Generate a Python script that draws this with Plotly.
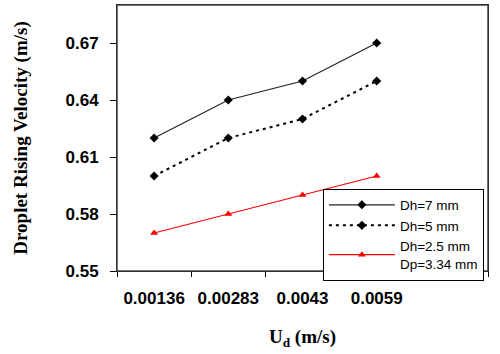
import plotly.graph_objects as go

categories = ["0.00136", "0.00283", "0.0043", "0.0059"]
dh7 = [0.62, 0.64, 0.65, 0.67]
dh5 = [0.60, 0.62, 0.63, 0.65]
dh25 = [0.57, 0.58, 0.59, 0.60]
y_ticks = [0.55, 0.58, 0.61, 0.64, 0.67]

fig = go.Figure()
fig.add_trace(go.Scatter(x=categories, y=dh7, name="Dh=7 mm", mode="lines+markers",
                         line=dict(color="#222222", width=1.2),
                         marker=dict(symbol="diamond", size=7, color="black")))
fig.add_trace(go.Scatter(x=categories, y=dh5, name="Dh=5 mm", mode="lines+markers",
                         line=dict(color="black", width=2, dash="3px,4px"),
                         marker=dict(symbol="diamond", size=7, color="black")))
fig.add_trace(go.Scatter(x=categories, y=dh25, name="Dh=2.5 mm<br>Dp=3.34 mm", mode="lines+markers",
                         line=dict(color="red", width=1.2),
                         marker=dict(symbol="triangle-up", size=7, color="red")))

fig.update_layout(
    width=500, height=354,
    margin=dict(l=117, r=12, t=5, b=83, autoexpand=False),
    plot_bgcolor="white", paper_bgcolor="white",
    showlegend=True,
    legend=dict(x=0.555, y=0.31, xanchor="left", yanchor="top",
                bordercolor="black", borderwidth=1, bgcolor="white",
                font=dict(family="Arial, Liberation Sans", size=13.5, color="black"),
                tracegroupgap=0, itemwidth=66),
    shapes=[dict(type="rect", xref="paper", yref="paper", x0=0, x1=1, y0=0, y1=1,
                 line=dict(color="#444444", width=1.5), layer="above")],
    xaxis=dict(type="category", categoryorder="array", categoryarray=categories + [" "],
               range=[-0.5, 4.5], tickson="boundaries", ticks="outside", ticklen=5,
               tickcolor="black", showline=True, linecolor="black", linewidth=1,
               mirror=True, showgrid=False, automargin=False, ticklabelstandoff=12,
               tickfont=dict(family="Arial, Liberation Sans", size=17, color="black", weight="bold"),
               title=dict(text="U<sub>d</sub> (m/s)", standoff=22,
                          font=dict(family="Times New Roman, Liberation Serif", size=19, color="black", weight="bold"))),
    yaxis=dict(range=[0.55, 0.69], tickvals=y_ticks, tickformat=".2f",
               ticks="outside", ticklen=6, tickcolor="black",
               showline=True, linecolor="black", linewidth=1, mirror=True,
               showgrid=False, zeroline=False, automargin=False, ticklabelstandoff=8,
               tickfont=dict(family="Arial, Liberation Sans", size=17, color="black", weight="bold"),
               title=dict(text="Droplet Rising Velocity (m/s)", standoff=32,
                          font=dict(family="Times New Roman, Liberation Serif", size=19, color="black", weight="bold"))),
)
fig.write_html("out.html", config={"displayModeBar": False},
               post_script="document.body.style.margin='0';")
